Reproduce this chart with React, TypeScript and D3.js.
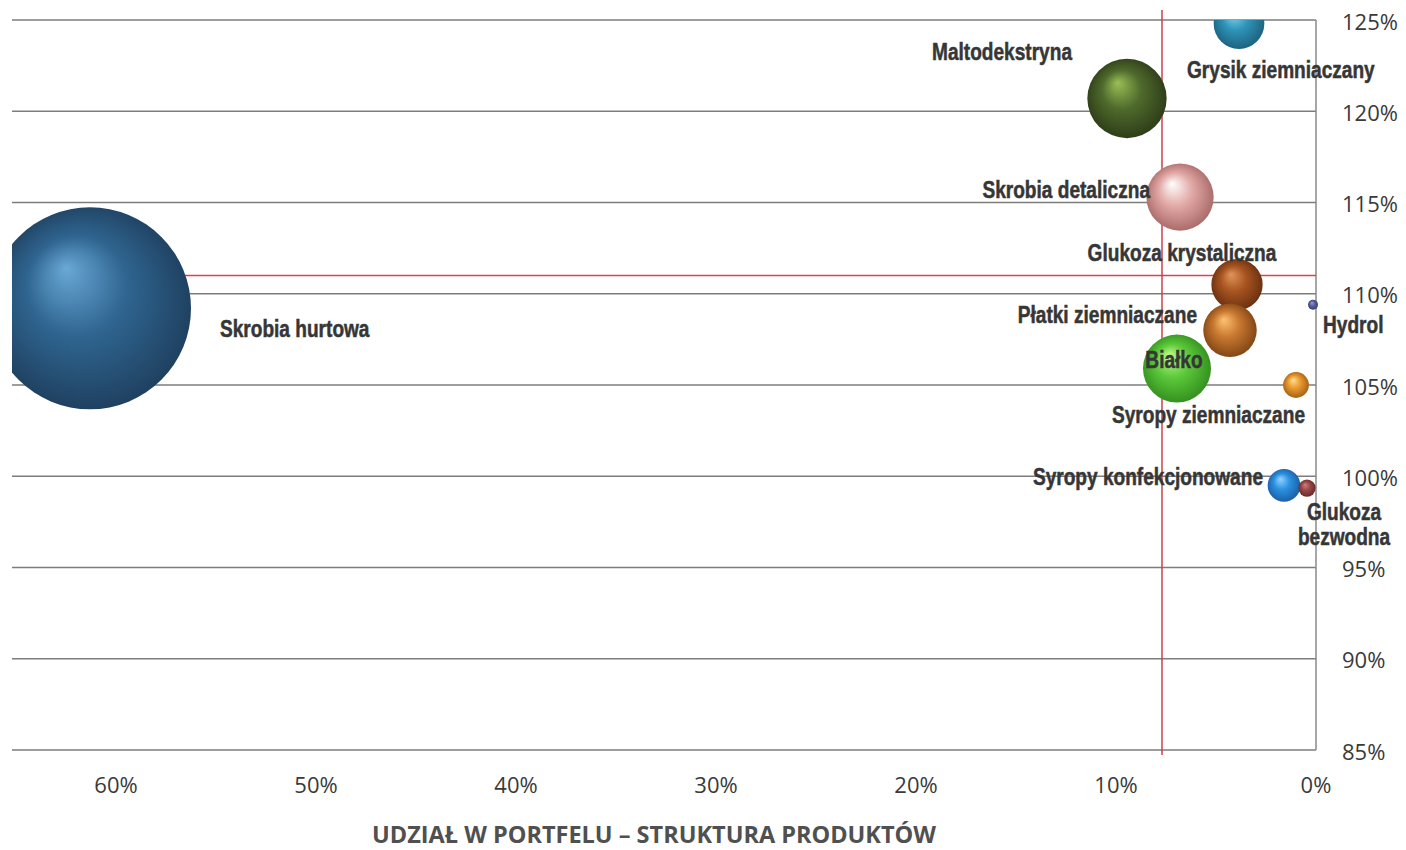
import React from 'react';
import * as d3 from 'd3';

// ---------------- DATA ----------------
const products = [
  'Skrobia hurtowa',
  'Maltodekstryna',
  'Grysik ziemniaczany',
  'Skrobia detaliczna',
  'Glukoza krystaliczna',
  'Płatki ziemniaczane',
  'Białko',
  'Syropy ziemniaczane',
  'Hydrol',
  'Syropy konfekcjonowane',
  'Glukoza bezwodna',
];
// share in portfolio (%)
const portfolioShare = [61.3, 9.45, 3.85, 6.8, 3.95, 4.3, 6.95, 1.0, 0.15, 1.6, 0.45];
// sales dynamics (%)
const salesDynamics = [109.2, 120.7, 124.8, 115.3, 110.5, 108.0, 105.9, 105.0, 109.4, 99.5, 99.35];
// bubble size (= share)
const bubbleSize = [61.3, 9.45, 3.85, 6.8, 3.95, 4.3, 6.95, 1.0, 0.15, 1.6, 0.45];

const xTicks = [0, 10, 20, 30, 40, 50, 60];
const yTicks = [85, 90, 95, 100, 105, 110, 115, 120, 125];
const shareThreshold = 7.7;
const dynamicsThreshold = 111;
const xAxisTitle = 'UDZIAŁ W PORTFELU – STRUKTURA PRODUKTÓW';

// ---------------- STYLE / LAYOUT ----------------
const W = 1406;
const H = 850;
const PLOT = { left: 12, right: 1316, top: 20, bottom: 750 };

const bubbleColors: [string, string, string][] = [
  ['#6aa8d6', '#2f6590', '#1d3c5a'],
  ['#9bbf55', '#4f6a2c', '#2a3816'],
  ['#8ad6ee', '#2e93b8', '#1b5d78'],
  ['#ffffff', '#e2a9a6', '#a46462'],
  ['#e0955a', '#a85420', '#632c0e'],
  ['#ffc272', '#c87830', '#7a4012'],
  ['#c0ff88', '#5cc83a', '#2f8a1c'],
  ['#ffe090', '#e89a30', '#a05a10'],
  ['#9aa0d0', '#5a60a0', '#353a6a'],
  ['#94d4ff', '#2a90e0', '#1a5aa0'],
  ['#d08080', '#9a4848', '#602828'],
];

// label placement relative to bubble centre: [dx, dy(baseline), anchor]
const labelLayout: [number, number, 'start' | 'middle' | 'end'][] = [
  [130, 29, 'start'],
  [-55, -38, 'end'],
  [-52, 54, 'start'],
  [-30, 1, 'end'],
  [-55, -24, 'middle'],
  [-33, -7, 'end'],
  [-3, -1, 'middle'],
  [9, 38, 'end'],
  [10, 28, 'start'],
  [-21, 0, 'end'],
  [37, 32, 'middle'],
];

const LABEL_FONT = '"Liberation Sans", Arial, sans-serif';
const LABEL_SCALE_X = 0.83;
const AXIS_FONT = '"Open Sans", Lato, sans-serif';

export default function App() {
  const x = d3.scaleLinear().domain([0, 65.2]).range([PLOT.right, PLOT.left]);
  const y = d3.scaleLinear().domain([85, 125]).range([PLOT.bottom, PLOT.top]);
  const r = d3.scaleSqrt().domain([0, d3.max(bubbleSize) as number]).range([0, 101]);

  return (
    <svg
      width={W}
      height={H}
      viewBox={`0 0 ${W} ${H}`}
      style={{ position: 'absolute', left: 0, top: 0, background: '#fff' }}
    >
      <defs>
        <clipPath id="plotClip">
          <rect x={PLOT.left} y={PLOT.top} width={PLOT.right - PLOT.left + 3} height={PLOT.bottom - PLOT.top} />
        </clipPath>
        {bubbleColors.map((c, i) => (
          <radialGradient key={i} id={`g${i}`} cx="50%" cy="50%" r="55%" fx="38%" fy="30%">
            <stop offset="0%" stopColor={c[0]} />
            <stop offset="45%" stopColor={c[1]} />
            <stop offset="100%" stopColor={c[2]} />
          </radialGradient>
        ))}
      </defs>

      {/* grid lines */}
      {yTicks.map((t) => (
        <line
          key={t}
          x1={PLOT.left}
          x2={PLOT.right}
          y1={y(t)}
          y2={y(t)}
          stroke="#7d7d7d"
          strokeWidth={1.5}
        />
      ))}
      <line x1={PLOT.right} x2={PLOT.right} y1={PLOT.top} y2={PLOT.bottom} stroke="#8a8a8a" strokeWidth={1.5} />

      {/* threshold lines */}
      <line x1={PLOT.left} x2={PLOT.right} y1={y(dynamicsThreshold)} y2={y(dynamicsThreshold)} stroke="#d9434f" strokeWidth={1.5} />
      <line x1={x(shareThreshold)} x2={x(shareThreshold)} y1={PLOT.top - 10} y2={PLOT.bottom + 5} stroke="#c8404c" strokeWidth={1.5} />

      {/* bubbles */}
      <g clipPath="url(#plotClip)">
        {products.map((p, i) => (
          <circle
            key={p}
            cx={x(portfolioShare[i])}
            cy={y(salesDynamics[i])}
            r={r(bubbleSize[i])}
            fill={`url(#g${i})`}
          />
        ))}
      </g>

      {/* labels */}
      {products.map((p, i) => {
        const [dx, dy, anchor] = labelLayout[i];
        const cx = x(portfolioShare[i]);
        const cy = y(salesDynamics[i]);
        const words = p === 'Glukoza bezwodna' ? ['Glukoza', 'bezwodna'] : [p];
        return (
          <text
            key={p}
            transform={`translate(${cx + dx},${cy + dy}) scale(${LABEL_SCALE_X},1)`}
            textAnchor={anchor}
            fontFamily={LABEL_FONT}
            fontWeight="bold"
            fontSize={23}
            fill="#363636"
            stroke="#363636"
            strokeWidth={0.5}
          >
            {words.map((w, k) => (
              <tspan key={k} x={0} dy={k === 0 ? 0 : 25}>
                {w}
              </tspan>
            ))}
          </text>
        );
      })}

      {/* y axis labels (right side) */}
      {yTicks.map((t) => (
        <text key={t} x={1342} y={y(t) + 9.5} fontFamily={AXIS_FONT} fontSize={22} fill="#3a3a3a">
          {`${t}%`}
        </text>
      ))}

      {/* x axis labels */}
      {xTicks.map((t) => (
        <text key={t} x={x(t)} y={793} textAnchor="middle" fontFamily={AXIS_FONT} fontSize={22} fill="#3a3a3a">
          {`${t}%`}
        </text>
      ))}

      {/* x axis title */}
      <text x={654} y={843} textAnchor="middle" fontFamily={AXIS_FONT} fontWeight="bold" fontSize={23.5} fill="#505050">
        {xAxisTitle}
      </text>
    </svg>
  );
}
